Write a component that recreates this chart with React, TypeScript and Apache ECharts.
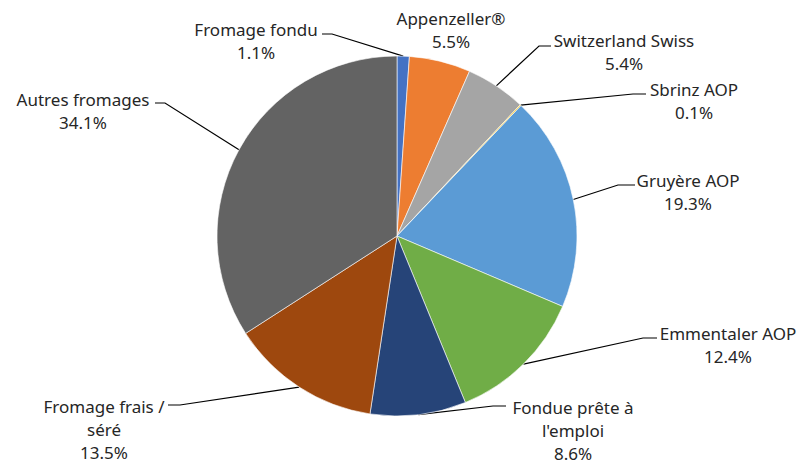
import React, { useEffect, useRef } from "react";
import * as echarts from "echarts";

const categories = [
  "Fromage fondu",
  "Appenzeller®",
  "Switzerland Swiss",
  "Sbrinz AOP",
  "Gruyère AOP",
  "Emmentaler AOP",
  "Fondue prête à\nl'emploi",
  "Fromage frais /\nséré",
  "Autres fromages",
];
const shares = [1.1, 5.5, 5.4, 0.1, 19.3, 12.4, 8.6, 13.5, 34.1];
const colors = [
  "#4472C4",
  "#ED7D31",
  "#A5A5A5",
  "#FFC000",
  "#5B9BD5",
  "#70AD47",
  "#264478",
  "#9E480E",
  "#636363",
];

// label anchor (center x, middle y) and leader-line knee/end points (layout only)
const labelAnchors: [number, number][] = [
  [256, 41],
  [451, 30],
  [624, 52],
  [694, 101],
  [688, 192],
  [728, 345],
  [573, 430],
  [104, 429],
  [83, 111],
];
const leaderKnees: ([number, number][] | null)[] = [
  [[332, 34], [322, 34]],
  null,
  [[539, 46], [551, 46]],
  [[633, 94], [646, 94]],
  [[618, 185], [635, 185]],
  [[643, 338], [657, 338]],
  [[493, 406], [506, 406]],
  [[180, 405], [168, 405]],
  [[165, 103], [155, 103]],
];

export default function App() {
  const ref = useRef<HTMLDivElement>(null);
  useEffect(() => {
    if (!ref.current) return;
    const chart = echarts.init(ref.current, null, { renderer: "svg" });
    chart.setOption({
      animation: false,
      backgroundColor: "#ffffff",
      series: [
        {
          type: "pie",
          center: [397, 236],
          radius: [0, 180],
          startAngle: 90,
          clockwise: true,
          avoidLabelOverlap: false,
          itemStyle: { borderColor: "#ffffff", borderWidth: 0.6 },
          label: {
            show: true,
            color: "#262626",
            fontFamily: "'Noto Sans', 'Open Sans', sans-serif",
            fontSize: 17,
            lineHeight: 23,
            align: "center",
            formatter: (p: any) => `${p.name}\n${(p.value as number).toFixed(1)}%`,
          },
          labelLine: {
            show: true,
            length: 10,
            length2: 10,
            lineStyle: { color: "#000000", width: 1.2 },
          },
          labelLayout: (params: any) => {
            const i = params.dataIndex;
            const [x, y] = labelAnchors[i];
            const knee = leaderKnees[i];
            const res: any = { x, y, align: "center", verticalAlign: "middle" };
            if (knee && params.labelLinePoints) {
              res.labelLinePoints = [params.labelLinePoints[0], knee[0], knee[1]];
            }
            return res;
          },
          data: categories.map((name, i) => ({
            name,
            value: shares[i],
            itemStyle: { color: colors[i] },
            labelLine: { show: leaderKnees[i] !== null },
          })),
        },
      ],
    });
    return () => chart.dispose();
  }, []);
  return (
    <div
      ref={ref}
      style={{ position: "absolute", left: 0, top: 0, width: 801, height: 464 }}
    />
  );
}
